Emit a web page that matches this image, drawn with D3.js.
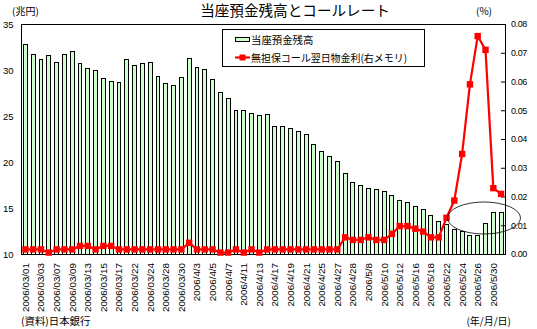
<!DOCTYPE html>
<html>
<head>
<meta charset="utf-8">
<script src="https://cdn.jsdelivr.net/npm/d3@7/dist/d3.min.js"></script>
<style>
  html, body { margin: 0; padding: 0; background: #fff; }
  svg { display: block; }
  .num { font-family: "Liberation Sans", Arial, sans-serif; font-size: 9px; fill: #000; }
  .jp { font-family: "Noto Sans CJK JP", "Noto Sans", sans-serif; fill: #000; }
</style>
</head>
<body>
<svg id="chart" width="537" height="329"></svg>
<script>
// ---- data ----
const tickLabels = ["2006/03/01","2006/03/03","2006/03/07","2006/03/09","2006/03/13","2006/03/15","2006/03/17","2006/03/22","2006/03/24","2006/03/28","2006/03/30","2006/4/3","2006/4/5","2006/4/7","2006/4/11","2006/4/13","2006/4/17","2006/4/19","2006/4/21","2006/4/25","2006/4/27","2006/4/28","2006/5/8","2006/5/10","2006/5/12","2006/5/16","2006/5/18","2006/5/22","2006/5/24","2006/5/26","2006/5/30"];
// current account balances (trillion yen), one per business day
const balances = [32.8,31.7,31.1,31.6,30.8,31.7,32.0,30.7,30.2,29.9,29.1,28.8,28.6,31.1,30.5,30.7,30.8,29.3,28.5,28.3,29.2,31.2,30.3,30.1,29.0,27.6,26.9,25.6,25.6,25.3,25.1,25.2,23.9,23.9,23.6,23.3,23.0,21.9,21.1,20.6,20.1,18.8,17.8,17.5,17.1,17.0,16.8,16.4,15.8,15.6,15.2,14.8,14.2,13.5,13.2,12.7,12.4,12.0,12.0,13.3,14.5,14.5];
// uncollateralized overnight call rate (%)
const callRate = [0.0016,0.0016,0.0016,0.0005,0.0016,0.0016,0.0016,0.0028,0.0028,0.0016,0.0028,0.0028,0.0016,0.0016,0.0016,0.0016,0.0016,0.0016,0.0016,0.0016,0.0016,0.0039,0.0016,0.0016,0.0016,0.0005,0.0005,0.0016,0.0005,0.0016,0.0005,0.0016,0.0016,0.0016,0.0016,0.0016,0.0016,0.0016,0.0016,0.0016,0.0016,0.0058,0.0049,0.0049,0.0058,0.0049,0.0049,0.0070,0.0097,0.0097,0.0088,0.0078,0.0058,0.0058,0.0126,0.0186,0.0348,0.0590,0.0758,0.0710,0.0229,0.0209];
const leftTicks = [10,15,20,25,30,35];
const rightTicks = [0,0.01,0.02,0.03,0.04,0.05,0.06,0.07,0.08];
const seriesNames = ["当座預金残高","無担保コール翌日物金利(右メモリ)"];

// ---- layout ----
const L = 21.5, R = 505, T = 24, B = 254;
const svg = d3.select("#chart");
const idx = d3.range(balances.length);

const x = d3.scaleBand().domain(idx).range([L, R]).paddingInner(0.5).paddingOuter(0.25);
const yL = d3.scaleLinear().domain([10, 35]).range([B, T]);
const yR = d3.scaleLinear().domain([0, 0.08]).range([B, T]);
const cx = i => x(i) + x.bandwidth() / 2;

// bars
svg.append("g").selectAll("rect").data(balances).join("rect")
  .attr("x", (d, i) => x(i))
  .attr("y", d => yL(d))
  .attr("width", x.bandwidth())
  .attr("height", d => B - yL(d))
  .attr("fill", "#ccffcc")
  .attr("stroke", "#000")
  .attr("stroke-width", 1)
  .attr("shape-rendering", "crispEdges");

// frame
svg.append("rect").attr("x", L).attr("y", T + 0.5).attr("width", R - L).attr("height", B - T)
  .attr("fill", "none").attr("stroke", "#000").attr("stroke-width", 1)
  .attr("shape-rendering", "crispEdges");

// left axis
const gL = svg.append("g").attr("transform", `translate(${L},0)`)
  .call(d3.axisLeft(yL).tickValues(leftTicks).tickSize(0).tickPadding(8));
gL.select(".domain").remove();
gL.selectAll("text").attr("class", "num").attr("font-size", null).attr("font-family", null).style("font-size", "9.5px");

// right axis
const gR = svg.append("g").attr("transform", `translate(${R},0)`)
  .call(d3.axisRight(yR).tickValues(rightTicks).tickSizeInner(-4).tickSizeOuter(0).tickPadding(6).tickFormat(d3.format(".2f")));
gR.select(".domain").remove();
gR.selectAll("line").attr("stroke", "#000");
gR.selectAll("text").attr("class", "num").attr("font-size", null).attr("font-family", null).style("letter-spacing", "-0.4px");

// x labels
const tickIdx = tickLabels.map((d, k) => k * 2);
svg.append("g").selectAll("text").data(tickIdx).join("text")
  .attr("class", "num")
  .attr("transform", i => `translate(${cx(i)},263) rotate(-90)`)
  .attr("text-anchor", "end")
  .attr("dy", "0.35em")
  .style("font-size", "9.8px")
  .text((i, k) => tickLabels[k]);

// call rate line
const line = d3.line().x((d, i) => cx(i)).y(d => yR(d));
svg.append("path").datum(callRate).attr("d", line)
  .attr("fill", "none").attr("stroke", "#ff0000").attr("stroke-width", 2.2).attr("stroke-linejoin", "round");
svg.append("g").selectAll("rect").data(callRate).join("rect")
  .attr("x", (d, i) => cx(i) - 3.2).attr("y", d => yR(d) - 3.2)
  .attr("width", 6.4).attr("height", 6.4).attr("fill", "#ff0000");

// annotation ellipse
svg.append("ellipse").attr("cx", 484).attr("cy", 218).attr("rx", 36.5).attr("ry", 16)
  .attr("fill", "none").attr("stroke", "#000").attr("stroke-width", 0.8);

// legend
const lg = svg.append("g");
lg.append("rect").attr("x", 222).attr("y", 29.5).attr("width", 202).attr("height", 37)
  .attr("fill", "#fff").attr("stroke", "#000").attr("stroke-width", 1).attr("shape-rendering", "crispEdges");
lg.append("rect").attr("x", 235.5).attr("y", 37.5).attr("width", 14).attr("height", 3.5)
  .attr("fill", "#ccffcc").attr("stroke", "#000").attr("stroke-width", 1).attr("shape-rendering", "crispEdges");
lg.append("line").attr("x1", 235).attr("x2", 250).attr("y1", 57.5).attr("y2", 57.5)
  .attr("stroke", "#ff0000").attr("stroke-width", 2.2);
lg.append("rect").attr("x", 239.5).attr("y", 54.5).attr("width", 6).attr("height", 6).attr("fill", "#ff0000");
lg.append("text").attr("class", "jp").attr("x", 251).attr("y", 44).style("font-size", "10.4px").text(seriesNames[0]);
lg.append("text").attr("class", "jp").attr("x", 251).attr("y", 62).style("font-size", "10.4px")
  .attr("textLength", 156).attr("lengthAdjust", "spacingAndGlyphs").text(seriesNames[1]);

// titles and notes
svg.append("text").attr("class", "jp").attr("x", 295).attr("y", 15.5).attr("text-anchor", "middle")
  .style("font-size", "14.6px").text("当座預金残高とコールレート");
svg.append("text").attr("class", "jp").attr("x", 12).attr("y", 15).style("font-size", "10px").text("(兆円)");
svg.append("text").attr("class", "jp").attr("x", 484).attr("y", 15).attr("text-anchor", "middle").style("font-size", "10px").text("(%)");
svg.append("text").attr("class", "jp").attr("x", 21).attr("y", 325).style("font-size", "10.4px").text("(資料)日本銀行");
svg.append("text").attr("class", "jp").attr("x", 511).attr("y", 325).attr("text-anchor", "end").style("font-size", "10px").text("(年/月/日)");
</script>
</body>
</html>
